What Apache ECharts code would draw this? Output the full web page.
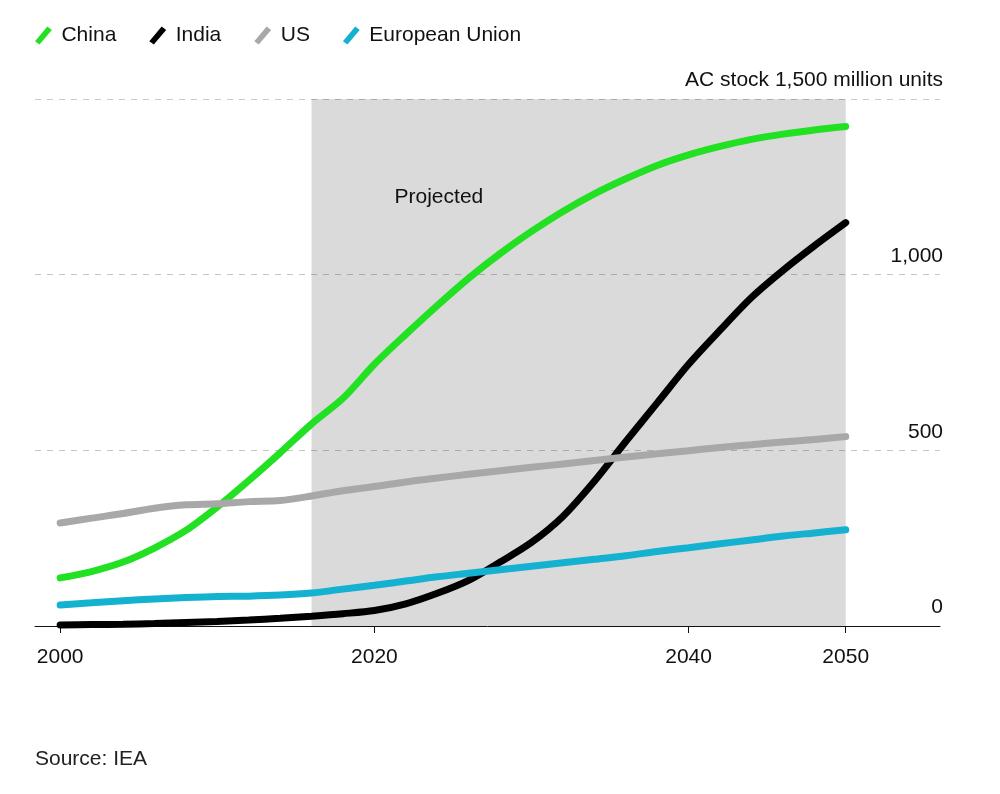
<!DOCTYPE html>
<html>
<head>
<meta charset="utf-8">
<script src="https://cdn.jsdelivr.net/npm/echarts@6/dist/echarts.min.js"></script>
<style>
html,body{margin:0;padding:0;background:#fff;}
#main{width:1000px;height:794px;}
</style>
</head>
<body>
<div id="main"></div>
<script>
var years = [2000,2002,2004,2006,2008,2010,2012,2014,2016,2018,2020,2022,2024,2026,2028,2030,2032,2034,2036,2038,2040,2042,2044,2046,2048,2050];
var china = [137,155,182,222,272,339,414,493,575,648,745,830,912,990,1060,1123,1180,1230,1273,1311,1341,1365,1385,1400,1412,1422];
var india = [3,4,5,7,10,13,17,22,28,35,44,63,93,130,182,238,312,412,525,635,745,842,935,1012,1082,1148];
var us = [293,307,320,335,345,348,354,357,370,385,397,410,421,432,442,452,461,471,481,490,499,508,516,524,531,539];
var eu = [60,66,72,77,81,84,85,88,94,105,116,128,140,150,160,170,180,190,200,212,223,234,245,256,265,274];
var seriesNames = ['China','India','US','European Union'];
var xTickValues = [2000,2020,2040,2050];
var yTickValues = [0,500,1000,1500];
var yTickLabels = ['0','500','1,000','AC stock 1,500 million units'];
var projectedRange = [2016,2050];
var projectedLabel = 'Projected';
var sourceText = 'Source: IEA';

var colors = ['#22e022','#000000','#a8a8a8','#14b2d0'];
var FONT = 'Liberation Sans, Arial, sans-serif';
var FS = 21;

function pairs(arr){ return years.map(function(y,i){ return [y, arr[i]]; }); }
var allData = [china, india, us, eu];

var series = [{
  type:'line', data:[], silent:true,
  markArea:{
    silent:true,
    itemStyle:{color:'rgba(0,0,0,0.145)'},
    label:{show:true, position:[83,88], color:'#111', fontSize:FS, fontFamily:FONT},
    data:[[{xAxis:projectedRange[0], name:projectedLabel},{xAxis:projectedRange[1]}]]
  }
}];
seriesNames.forEach(function(n,i){
  series.push({
    name:n, type:'line', data:pairs(allData[i]), smooth:0.3,
    showSymbol:false, symbol:'none',
    lineStyle:{color:colors[i], width:7, cap:'round'}, itemStyle:{color:colors[i]}, z:3+i
  });
});

var chart = echarts.init(document.getElementById('main'), null, {renderer:'canvas'});
chart.setOption({
  animation:false,
  backgroundColor:'#fff',
  color:colors,
  legend:{
    left:30, top:20, itemWidth:18, itemHeight:18, itemGap:33,
    icon:'path://M2,15 L13,2 L17,5 L6,18 Z',
    data:seriesNames,
    textStyle:{fontSize:FS, color:'#111', fontFamily:FONT, padding:[0,0,0,4]}
  },
  grid:{left:35, right:60, top:99, bottom:168, containLabel:false},
  xAxis:{
    type:'value', min:1998.4, max:2056,
    axisLine:{show:true, lineStyle:{color:'#111', width:1}},
    axisTick:{show:true, customValues:xTickValues, length:7, lineStyle:{color:'#111'}},
    axisLabel:{customValues:xTickValues, margin:21, fontSize:FS, color:'#111', fontFamily:FONT,
      formatter:function(v){ return String(Math.round(v)); }},
    splitLine:{show:false}
  },
  yAxis:{
    type:'value', position:'right', min:0, max:1500, interval:500,
    axisLine:{show:false}, axisTick:{show:false},
    axisLabel:{
      inside:true, margin:-3, fontSize:FS, color:'#111', fontFamily:FONT,
      verticalAlign:'bottom', padding:[0,0,8,0],
      formatter:function(v){ var i = yTickValues.indexOf(v); return i>=0 ? yTickLabels[i] : ''; }
    },
    splitLine:{show:true, lineStyle:{color:'#c8c8c8', type:[6,6], width:1}}
  },
  graphic:[{
    type:'text', left:35, top:749,
    style:{text:sourceText, fill:'#222', font:FS+'px '+FONT}
  }],
  series:series
});
</script>
</body>
</html>
